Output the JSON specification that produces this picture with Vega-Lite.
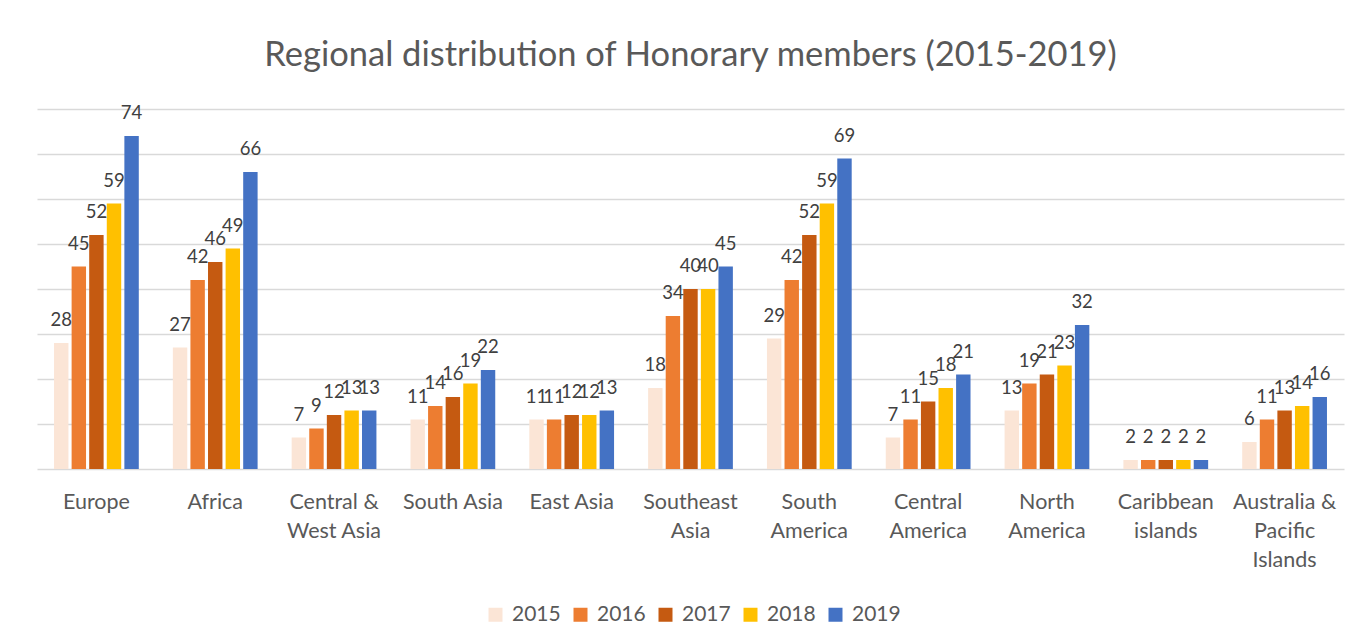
{
  "$schema": "https://vega.github.io/schema/vega-lite/v6.json",
  "autosize": {"type": "none"},
  "width": 1307,
  "height": 360,
  "padding": {"left": 37, "top": 109, "right": 27, "bottom": 172},
  "background": "white",
  "title": {
    "text": "Regional distribution of Honorary members (2015-2019)",
    "fontSize": 34.5,
    "font": "Lato",
    "fontWeight": "normal",
    "color": "#595959",
    "anchor": "middle",
    "offset": 31
  },
  "config": {
    "font": "Lato",
    "view": {"stroke": null}
  },
  "data": {
    "values": [
      {"region": "Europe", "year": "2015", "value": 28},
      {"region": "Europe", "year": "2016", "value": 45},
      {"region": "Europe", "year": "2017", "value": 52},
      {"region": "Europe", "year": "2018", "value": 59},
      {"region": "Europe", "year": "2019", "value": 74},
      {"region": "Africa", "year": "2015", "value": 27},
      {"region": "Africa", "year": "2016", "value": 42},
      {"region": "Africa", "year": "2017", "value": 46},
      {"region": "Africa", "year": "2018", "value": 49},
      {"region": "Africa", "year": "2019", "value": 66},
      {"region": "Central & West Asia", "year": "2015", "value": 7},
      {"region": "Central & West Asia", "year": "2016", "value": 9},
      {"region": "Central & West Asia", "year": "2017", "value": 12},
      {"region": "Central & West Asia", "year": "2018", "value": 13},
      {"region": "Central & West Asia", "year": "2019", "value": 13},
      {"region": "South Asia", "year": "2015", "value": 11},
      {"region": "South Asia", "year": "2016", "value": 14},
      {"region": "South Asia", "year": "2017", "value": 16},
      {"region": "South Asia", "year": "2018", "value": 19},
      {"region": "South Asia", "year": "2019", "value": 22},
      {"region": "East Asia", "year": "2015", "value": 11},
      {"region": "East Asia", "year": "2016", "value": 11},
      {"region": "East Asia", "year": "2017", "value": 12},
      {"region": "East Asia", "year": "2018", "value": 12},
      {"region": "East Asia", "year": "2019", "value": 13},
      {"region": "Southeast Asia", "year": "2015", "value": 18},
      {"region": "Southeast Asia", "year": "2016", "value": 34},
      {"region": "Southeast Asia", "year": "2017", "value": 40},
      {"region": "Southeast Asia", "year": "2018", "value": 40},
      {"region": "Southeast Asia", "year": "2019", "value": 45},
      {"region": "South America", "year": "2015", "value": 29},
      {"region": "South America", "year": "2016", "value": 42},
      {"region": "South America", "year": "2017", "value": 52},
      {"region": "South America", "year": "2018", "value": 59},
      {"region": "South America", "year": "2019", "value": 69},
      {"region": "Central America", "year": "2015", "value": 7},
      {"region": "Central America", "year": "2016", "value": 11},
      {"region": "Central America", "year": "2017", "value": 15},
      {"region": "Central America", "year": "2018", "value": 18},
      {"region": "Central America", "year": "2019", "value": 21},
      {"region": "North America", "year": "2015", "value": 13},
      {"region": "North America", "year": "2016", "value": 19},
      {"region": "North America", "year": "2017", "value": 21},
      {"region": "North America", "year": "2018", "value": 23},
      {"region": "North America", "year": "2019", "value": 32},
      {"region": "Caribbean islands", "year": "2015", "value": 2},
      {"region": "Caribbean islands", "year": "2016", "value": 2},
      {"region": "Caribbean islands", "year": "2017", "value": 2},
      {"region": "Caribbean islands", "year": "2018", "value": 2},
      {"region": "Caribbean islands", "year": "2019", "value": 2},
      {"region": "Australia & Pacific Islands", "year": "2015", "value": 6},
      {"region": "Australia & Pacific Islands", "year": "2016", "value": 11},
      {"region": "Australia & Pacific Islands", "year": "2017", "value": 13},
      {"region": "Australia & Pacific Islands", "year": "2018", "value": 14},
      {"region": "Australia & Pacific Islands", "year": "2019", "value": 16}
    ]
  },
  "encoding": {
    "x": {
      "field": "region",
      "type": "nominal",
      "sort": null,
      "title": null,
      "scale": {"paddingInner": 0.26, "paddingOuter": 0.13},
      "axis": {
        "labelAngle": 0,
        "labelFontSize": 21.5,
        "labelColor": "#595959",
        "labelPadding": 22,
        "labelLineHeight": 29,
        "labelBaseline": "top",
        "ticks": false,
        "domainColor": "#D9D9D9",
        "domainWidth": 1.3,
        "labelExpr": "datum.label == 'Central & West Asia' ? ['Central &', 'West Asia'] : datum.label == 'Southeast Asia' ? ['Southeast', 'Asia'] : datum.label == 'South America' ? ['South', 'America'] : datum.label == 'Central America' ? ['Central', 'America'] : datum.label == 'North America' ? ['North', 'America'] : datum.label == 'Caribbean islands' ? ['Caribbean', 'islands'] : datum.label == 'Australia & Pacific Islands' ? ['Australia &', 'Pacific', 'Islands'] : datum.label"
      }
    },
    "xOffset": {
      "field": "year",
      "type": "nominal",
      "scale": {"paddingInner": 0.18, "paddingOuter": 0.09}
    },
    "y": {
      "field": "value",
      "type": "quantitative",
      "title": null,
      "scale": {"domain": [0, 80], "nice": false},
      "axis": {
        "values": [10, 20, 30, 40, 50, 60, 70, 80],
        "labels": false,
        "ticks": false,
        "domain": false,
        "grid": true,
        "gridColor": "#D9D9D9",
        "gridWidth": 1.3
      }
    }
  },
  "layer": [
    {
      "mark": {"type": "bar"},
      "encoding": {
        "color": {
          "field": "year",
          "type": "nominal",
          "title": null,
          "scale": {
            "domain": ["2015", "2016", "2017", "2018", "2019"],
            "range": ["#FBE5D6", "#ED7D31", "#C55A11", "#FFC000", "#4472C4"]
          },
          "legend": {
            "orient": "none",
            "direction": "horizontal",
            "legendX": 448,
            "legendY": 495,
            "padding": 0,
            "symbolType": "square",
            "symbolSize": 196,
            "symbolStrokeWidth": 0,
            "symbolOpacity": 1,
            "labelFontSize": 21,
            "labelColor": "#595959",
            "labelOffset": 6,
            "columnPadding": 9
          }
        }
      }
    },
    {
      "mark": {"type": "text", "baseline": "alphabetic", "dy": -17, "fontSize": 18.5, "color": "#404040"},
      "encoding": {
        "text": {"field": "value", "type": "quantitative"}
      }
    }
  ]
}
